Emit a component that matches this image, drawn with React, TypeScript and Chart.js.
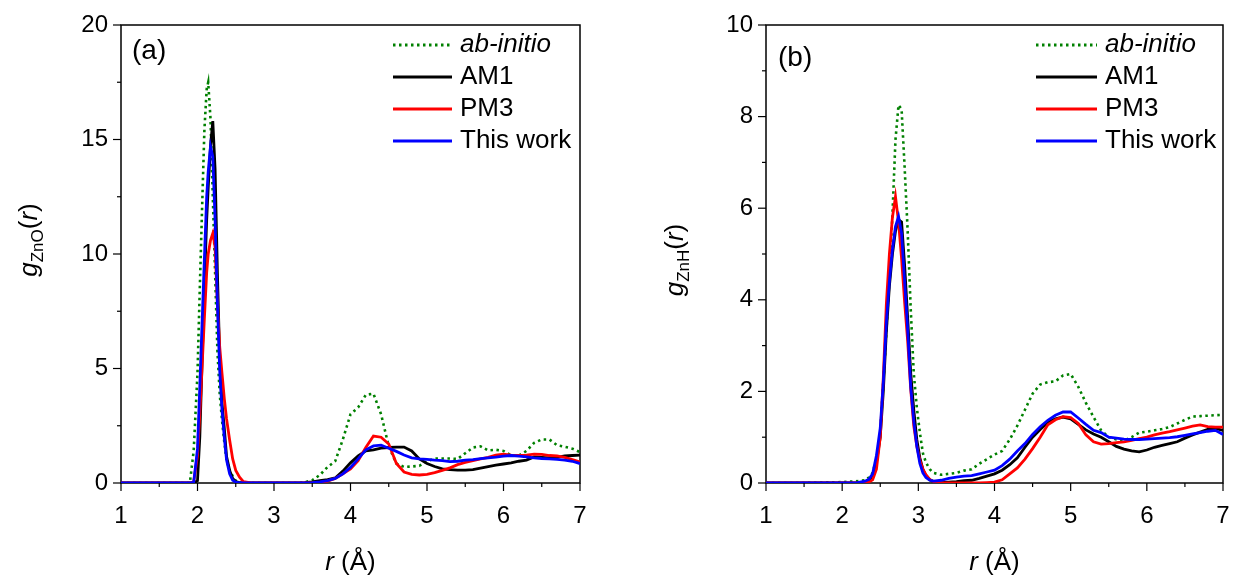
import React, { useEffect, useRef } from "react";
import { Chart, registerables } from "chart.js";
Chart.register(...registerables);

// ---------- Panel (a): g_ZnO(r) ----------
const rA = [1.0, 1.5, 1.9, 1.95, 2.0, 2.03, 2.06, 2.09, 2.12, 2.14, 2.17, 2.2, 2.23, 2.26, 2.29, 2.32, 2.35, 2.38, 2.42, 2.46, 2.5, 2.55, 2.6, 2.7, 3.0, 3.3, 3.4, 3.5, 3.6, 3.7, 3.8, 3.9, 4.0, 4.1, 4.2, 4.3, 4.4, 4.5, 4.6, 4.7, 4.8, 4.9, 5.0, 5.1, 5.2, 5.3, 5.4, 5.5, 5.6, 5.7, 5.8, 5.9, 6.0, 6.1, 6.2, 6.3, 6.4, 6.5, 6.6, 6.7, 6.8, 6.9, 7.0];
const abInitioA = [0, 0, 0, 1.4, 4.8, 8.5, 12.0, 15.4, 17.2, 17.5, 15.9, 12.5, 9.2, 5.8, 3.9, 2.75, 1.8, 1.0, 0.55, 0.3, 0.1, 0.03, 0, 0, 0, 0, 0.03, 0.12, 0.35, 0.7, 0.95, 1.9, 3.0, 3.3, 3.85, 3.9, 3.0, 1.6, 0.85, 0.7, 0.72, 0.75, 0.95, 1.07, 1.07, 1.07, 1.05, 1.3, 1.55, 1.6, 1.42, 1.45, 1.4, 1.2, 1.2, 1.4, 1.75, 1.9, 1.9, 1.65, 1.58, 1.5, 1.35];
const am1A = [0, 0, 0, 0, 0.1, 2.0, 5.3, 8.6, 11.5, 12.9, 14.7, 15.8, 13.7, 9.2, 5.5, 3.5, 2.4, 1.15, 0.55, 0.2, 0.06, 0.02, 0, 0, 0, 0, 0.02, 0.05, 0.1, 0.15, 0.22, 0.52, 0.88, 1.18, 1.4, 1.45, 1.52, 1.55, 1.57, 1.57, 1.4, 1.05, 0.85, 0.72, 0.62, 0.58, 0.56, 0.56, 0.58, 0.65, 0.72, 0.78, 0.83, 0.88, 0.95, 1.0, 1.14, 1.12, 1.1, 1.12, 1.18, 1.2, 1.22];
const pm3A = [0, 0, 0, 0.05, 1.2, 3.0, 5.1, 7.2, 9.2, 10.0, 10.6, 10.9, 10.3, 7.85, 5.95, 4.8, 3.7, 2.8, 1.88, 1.05, 0.55, 0.25, 0.06, 0, 0, 0, 0, 0.01, 0.03, 0.08, 0.2, 0.4, 0.62, 0.98, 1.55, 2.05, 2.0, 1.7, 0.85, 0.48, 0.38, 0.35, 0.38, 0.45, 0.55, 0.66, 0.8, 0.9, 0.98, 1.05, 1.12, 1.22, 1.26, 1.22, 1.2, 1.22, 1.26, 1.25, 1.2, 1.18, 1.12, 1.02, 0.92];
const thisWorkA = [0, 0, 0, 0.03, 1.5, 4.2, 7.0, 9.8, 12.5, 13.6, 14.7, 14.25, 11.5, 7.85, 4.93, 3.2, 2.0, 1.0, 0.4, 0.12, 0.04, 0.01, 0, 0, 0, 0, 0, 0.02, 0.05, 0.1, 0.2, 0.4, 0.68, 1.05, 1.45, 1.62, 1.65, 1.52, 1.38, 1.22, 1.1, 1.05, 1.03, 1.0, 0.98, 0.93, 0.95, 1.0, 1.02, 1.06, 1.1, 1.13, 1.17, 1.2, 1.17, 1.14, 1.1, 1.07, 1.05, 1.03, 1.0, 0.95, 0.85];

// ---------- Panel (b): g_ZnH(r) ----------
const rB = [1.0, 1.5, 2.0, 2.2, 2.3, 2.35, 2.4, 2.45, 2.5, 2.54, 2.58, 2.62, 2.66, 2.7, 2.74, 2.78, 2.82, 2.86, 2.9, 2.94, 2.98, 3.02, 3.06, 3.1, 3.15, 3.2, 3.3, 3.4, 3.5, 3.6, 3.7, 3.8, 3.9, 4.0, 4.1, 4.2, 4.3, 4.4, 4.5, 4.6, 4.7, 4.8, 4.9, 5.0, 5.1, 5.2, 5.3, 5.4, 5.5, 5.6, 5.7, 5.8, 5.9, 6.0, 6.1, 6.2, 6.3, 6.4, 6.5, 6.6, 6.7, 6.8, 6.9, 7.0];
const abInitioB = [0, 0, 0.02, 0.04, 0.06, 0.12, 0.22, 0.55, 1.1, 2.2, 3.3, 4.5, 5.85, 7.5, 8.25, 8.16, 6.9, 5.5, 3.8, 2.4, 1.65, 1.1, 0.65, 0.45, 0.3, 0.22, 0.18, 0.2, 0.22, 0.27, 0.3, 0.42, 0.52, 0.62, 0.7, 0.95, 1.25, 1.6, 1.95, 2.15, 2.2, 2.22, 2.35, 2.38, 2.1, 1.75, 1.44, 1.15, 1.0, 0.95, 0.93, 1.0, 1.1, 1.12, 1.15, 1.18, 1.22, 1.3, 1.38, 1.45, 1.46, 1.47, 1.48, 1.49];
const am1B = [0, 0, 0, 0, 0.02, 0.05, 0.14, 0.45, 1.0, 2.0, 3.3, 4.3, 5.0, 5.5, 5.75, 5.7, 4.75, 3.6, 2.4, 1.6, 0.95, 0.55, 0.3, 0.15, 0.07, 0.03, 0.01, 0.02, 0.03, 0.05, 0.06, 0.1, 0.15, 0.2, 0.28, 0.4, 0.55, 0.78, 1.0, 1.17, 1.32, 1.4, 1.44, 1.4, 1.28, 1.16, 1.07, 1.0, 0.9, 0.8, 0.74, 0.7, 0.68, 0.72, 0.78, 0.82, 0.86, 0.9, 0.98, 1.05, 1.11, 1.17, 1.19, 1.15];
const pm3B = [0, 0, 0, 0, 0.01, 0.02, 0.07, 0.3, 1.0, 2.3, 3.9, 5.0, 5.8, 6.25, 5.7, 4.9, 3.95, 3.1, 2.05, 1.25, 0.8, 0.5, 0.3, 0.18, 0.08, 0.03, 0.01, 0, 0, 0, 0, 0, 0.01, 0.02, 0.07, 0.2, 0.33, 0.52, 0.75, 1.0, 1.27, 1.38, 1.45, 1.43, 1.3, 1.05, 0.9, 0.85, 0.86, 0.88, 0.9, 0.93, 0.97, 1.0, 1.05, 1.09, 1.12, 1.16, 1.2, 1.24, 1.27, 1.23, 1.22, 1.22];
const thisWorkB = [0, 0, 0, 0.01, 0.04, 0.08, 0.2, 0.6, 1.2, 2.2, 3.5, 4.4, 5.1, 5.6, 5.82, 5.45, 4.4, 3.35, 2.1, 1.35, 0.8, 0.43, 0.22, 0.12, 0.06, 0.04, 0.06, 0.1, 0.13, 0.15, 0.16, 0.2, 0.24, 0.28, 0.38, 0.52, 0.7, 0.86, 1.06, 1.23, 1.37, 1.48, 1.55, 1.55, 1.42, 1.28, 1.15, 1.1, 1.0, 0.98, 0.96, 0.95, 0.95, 0.96, 0.97, 0.98, 0.99, 1.01, 1.04, 1.07, 1.1, 1.13, 1.15, 1.06];

const seriesNames = ["ab-initio", "AM1", "PM3", "This work"];
const seriesColors = ["#008000", "#000000", "#ff0000", "#0000ff"];
const xTickLabels = ["1", "2", "3", "4", "5", "6", "7"];

const FONT = "'Liberation Sans', Arial, sans-serif";
const W = 618;
const H = 578;

type PanelCfg = {
  label: string;
  sub: string;
  r: number[];
  ys: number[][];
  yMax: number;
  yStep: number;
  yMinor: number;
  yAxisWidth: number;
  padRight: number;
  yTitleX: number;
  yTitleY: number;
  panelX: number;
  panelY: number;
  legLineX1: number;
  legLineX2: number;
  legTextX: number;
};

const cfgA: PanelCfg = {
  label: "(a)", sub: "ZnO", r: rA, ys: [abInitioA, am1A, pm3A, thisWorkA],
  yMax: 20, yStep: 5, yMinor: 2.5, yAxisWidth: 121, padRight: 38,
  yTitleX: 28, yTitleY: 240, panelX: 132, panelY: 51,
  legLineX1: 393, legLineX2: 452, legTextX: 460,
};
const cfgB: PanelCfg = {
  label: "(b)", sub: "ZnH", r: rB, ys: [abInitioB, am1B, pm3B, thisWorkB],
  yMax: 10, yStep: 2, yMinor: 1, yAxisWidth: 148, padRight: 13,
  yTitleX: 674 - 618, yTitleY: 260, panelX: 778 - 618, panelY: 58,
  legLineX1: 1036 - 618, legLineX2: 1097 - 618, legTextX: 1105 - 618,
};

function decorPlugin(cfg: PanelCfg) {
  return {
    id: "decor",
    beforeDatasetsDraw(chart: any) {
      const { ctx, chartArea: ca, scales } = chart;
      const x = scales.x, y = scales.y;
      ctx.save();
      ctx.strokeStyle = "#000";
      ctx.lineWidth = 1.5;
      ctx.strokeRect(ca.left, ca.top, ca.right - ca.left, ca.bottom - ca.top);
      ctx.lineWidth = 1.2;
      for (let v = 1; v <= 7.0001; v += 0.5) {
        const px = x.getPixelForValue(v);
        const major = Math.abs(v - Math.round(v)) < 1e-6;
        ctx.beginPath();
        ctx.moveTo(px, ca.bottom);
        ctx.lineTo(px, ca.bottom + (major ? 8 : 4));
        ctx.stroke();
      }
      for (let v = 0; v <= cfg.yMax + 1e-6; v += cfg.yMinor) {
        const py = y.getPixelForValue(v);
        const major = Math.abs(v / cfg.yStep - Math.round(v / cfg.yStep)) < 1e-6;
        ctx.beginPath();
        ctx.moveTo(ca.left, py);
        ctx.lineTo(ca.left - (major ? 8 : 4), py);
        ctx.stroke();
      }
      ctx.restore();
    },
    afterDraw(chart: any) {
      const { ctx, chartArea: ca } = chart;
      ctx.save();
      ctx.fillStyle = "#000";
      // x title
      ctx.textBaseline = "middle";
      const f1 = `italic 26px ${FONT}`;
      const f2 = `26px ${FONT}`;
      ctx.font = f1;
      const w1 = ctx.measureText("r").width;
      ctx.font = f2;
      const w2 = ctx.measureText(" (Å)").width;
      const cx = (ca.left + ca.right) / 2;
      const sx = cx - (w1 + w2) / 2;
      ctx.textAlign = "left";
      ctx.font = f1;
      ctx.fillText("r", sx, 563);
      ctx.font = f2;
      ctx.fillText(" (Å)", sx + w1, 563);

      // y title
      ctx.save();
      ctx.translate(cfg.yTitleX, cfg.yTitleY);
      ctx.rotate(-Math.PI / 2);
      ctx.textBaseline = "alphabetic";
      const fs = `17px ${FONT}`;
      const parts: [string, string, number][] = [
        ["g", f1, 0],
        [cfg.sub, fs, 6],
        ["(", f2, 0],
        ["r", f1, 0],
        [")", f2, 0],
      ];
      let total = 0;
      const widths = parts.map(([t, f]) => { ctx.font = f; const w = ctx.measureText(t).width; total += w; return w; });
      let px = -total / 2;
      parts.forEach(([t, f, dy], i) => {
        ctx.font = f;
        ctx.fillText(t, px, 9 + dy);
        px += widths[i];
      });
      ctx.restore();

      // panel label
      ctx.font = `28px ${FONT}`;
      ctx.textAlign = "left";
      ctx.textBaseline = "middle";
      ctx.fillText(cfg.label, cfg.panelX, cfg.panelY);

      // legend
      const rows = [45, 77, 109, 141];
      seriesNames.forEach((name, i) => {
        const yy = rows[i];
        ctx.strokeStyle = seriesColors[i];
        ctx.lineWidth = 2.8;
        ctx.setLineDash(i === 0 ? [2.5, 3.5] : []);
        ctx.beginPath();
        ctx.moveTo(cfg.legLineX1, yy);
        ctx.lineTo(cfg.legLineX2, yy);
        ctx.stroke();
        ctx.setLineDash([]);
        ctx.font = i === 0 ? `italic 26px ${FONT}` : `26px ${FONT}`;
        ctx.fillStyle = "#000";
        ctx.fillText(name, cfg.legTextX, yy);
      });
      ctx.restore();
    },
  };
}

function Panel({ cfg, left }: { cfg: PanelCfg; left: number }) {
  const ref = useRef<HTMLCanvasElement>(null);
  useEffect(() => {
    if (!ref.current) return;
    const datasets = seriesNames.map((name, i) => ({
      label: name,
      data: cfg.r.map((x, k) => ({ x, y: cfg.ys[i][k] })),
      borderColor: seriesColors[i],
      backgroundColor: seriesColors[i],
      borderWidth: i === 0 ? 2.6 : 2.8,
      borderDash: i === 0 ? [2.5, 3.5] : [],
      pointRadius: 0,
      tension: 0,
      fill: false,
      order: 4 - i,
    }));
    const chart = new Chart(ref.current, {
      type: "line",
      data: { datasets },
      options: {
        animation: false,
        responsive: false,
        layout: { padding: { left: 0, right: cfg.padRight, top: 25, bottom: 0 } },
        plugins: { legend: { display: false }, tooltip: { enabled: false } },
        scales: {
          x: {
            type: "linear",
            min: 1,
            max: 7,
            ticks: {
              stepSize: 1,
              color: "#000",
              font: { family: FONT, size: 24 },
              padding: 19,
              maxRotation: 0,
              callback: (v: any) => xTickLabels[Math.round(Number(v)) - 1] ?? "",
            },
            grid: { display: false, drawTicks: false },
            border: { display: false },
            afterFit: (s: any) => { s.height = 95; s.paddingLeft = 0; s.paddingRight = 0; },
          },
          y: {
            type: "linear",
            min: 0,
            max: cfg.yMax,
            ticks: {
              stepSize: cfg.yStep,
              color: "#000",
              font: { family: FONT, size: 24 },
              padding: 13,
            },
            grid: { display: false, drawTicks: false },
            border: { display: false },
            afterFit: (s: any) => { s.width = cfg.yAxisWidth; s.paddingTop = 0; s.paddingBottom = 0; },
          },
        },
      },
      plugins: [decorPlugin(cfg)],
    } as any);
    return () => chart.destroy();
  }, [cfg]);
  return (
    <canvas
      ref={ref}
      width={W}
      height={H}
      style={{ position: "absolute", left, top: 0, width: W, height: H }}
    />
  );
}

export default function App() {
  return (
    <div style={{ position: "absolute", left: 0, top: 0, width: 1236, height: 578, background: "#fff" }}>
      <Panel cfg={cfgA} left={0} />
      <Panel cfg={cfgB} left={618} />
    </div>
  );
}
